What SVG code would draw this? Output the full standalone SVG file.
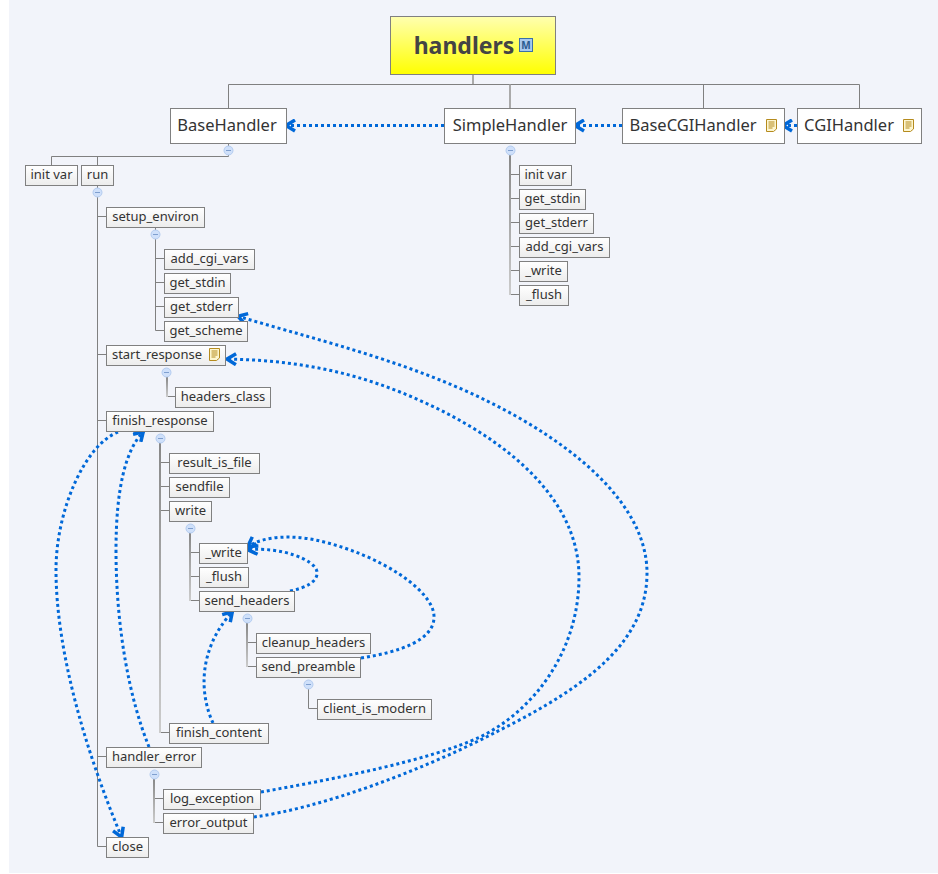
<svg xmlns="http://www.w3.org/2000/svg" width="938" height="874" viewBox="0 0 938 874">
<style>
text{font-family:"Noto Sans","Open Sans",sans-serif;fill:#333;}
.n rect{fill:url(#g);stroke:#808080;stroke-width:1;}
.n text{font-size:13px;text-anchor:middle;}
.b rect{fill:#fff;stroke:#808080;}
.b text{font-size:16.500px;text-anchor:middle;}
.l{fill:none;stroke:#808080;stroke-width:1;}
.v{fill:url(#v);}
.d{fill:none;stroke:#0068d8;stroke-width:3;stroke-dasharray:3 3;}
.c circle{fill:#cfe0fa;stroke:#b4ccf0;}
.c path{stroke:#7f9fcf;}
</style>
<defs>
<linearGradient id="g" x1="0" y1="0" x2="0" y2="1"><stop offset="0" stop-color="#fff"/><stop offset="1" stop-color="#ececec"/></linearGradient>
<linearGradient id="y" x1="0" y1="0" x2="0" y2="1"><stop offset="0" stop-color="#ffffb0"/><stop offset="1" stop-color="#ffff00"/></linearGradient>
<linearGradient id="v" x1="0" y1="0" x2="0" y2="1"><stop offset="0" stop-color="#888"/><stop offset="1" stop-color="#ccc"/></linearGradient>
<marker id="a" markerWidth="14" markerHeight="14" refX="12" refY="7" orient="auto" markerUnits="userSpaceOnUse" viewBox="0 0 14 14"><path d="M2 1.500L11 7L2 12.500" fill="none" stroke="#0068d8" stroke-width="3.500"/></marker>
<g id="note"><path d="M.5 .5H10.500V10L7.500 12.500H.5Z" fill="#fdf6d0" stroke="#b58b1e"/><path d="M2.500 3H8.500M2.500 5H8.500M2.500 7H8.500M2.500 9H6.500" stroke="#b58b1e"/></g>
</defs>
<rect width="938" height="874" fill="#fff"/>
<rect x="9" y="0" width="929" height="873" fill="#f2f4fa"/>
<g id="connectors">
<path class="l" d="M228.500 108V84.500H859.500V108M703.500 84.500V108"/>
<path d="M473 74V84M510 84.500V108" fill="none" stroke="#aaa" stroke-width="2"/>
<path class="l" d="M228.500 144V156.500H51.500V165M97.500 156.500V165M97.500 185V846.500H106M97.500 216.500H106M97.500 354.500H106M97.500 420.500H106M97.500 756.500H106"/>
<path class="l" d="M155.500 227V330.500H164M155.500 258.500H164M155.500 282.500H164M155.500 306.500H164"/>
<path class="l" d="M167 396.500H175"/><rect class="v" x="166" y="377" width="2" height="20"/>
<path class="l" d="M160 732.500H169M160 462.500H169M160 486.500H169M160 510.500H169"/><rect class="v" x="159" y="443" width="2" height="290"/>
<path class="l" d="M190 600.500H199M190 552.500H199M190 576.500H199"/><rect class="v" x="189" y="533" width="2" height="68"/>
<path class="l" d="M247 666.500H256M247 642.500H256"/><rect class="v" x="246" y="623" width="2" height="44"/>
<path class="l" d="M308.500 689V708.500H317"/>
<path class="l" d="M154 822.500H163M154 798.500H163"/><rect class="v" x="153" y="779" width="2" height="44"/>
<path class="l" d="M510 294.500H519M510 174.500H519M510 198.500H519M510 222.500H519M510 246.500H519M510 270.500H519"/><rect class="v" x="509" y="155" width="2" height="140"/>
<path class="d" marker-end="url(#a)" d="M444 125.500H285"/>
<path class="d" marker-end="url(#a)" d="M622 125.500H574"/>
<path class="d" marker-end="url(#a)" d="M797 125.500H782"/>
<path class="d" marker-end="url(#a)" d="M261 792C340 778 430 760 480 737C535 710 579 650 579 577C579 490 490 428 400 392C340 368 285 360 226 359"/>
<path class="d" marker-end="url(#a)" d="M254 817C320 808 420 772 500 730C590 685 647 640 647 573C647 490 540 420 440 380C370 352 300 335 237 316"/>
<path class="d" marker-end="url(#a)" d="M118 432C85 445 56 510 56 570C56 650 85 750 122 838"/>
<path class="d" marker-end="url(#a)" d="M149 747C130 700 116 630 116 550C116 490 125 450 144 431"/>
<path class="d" marker-end="url(#a)" d="M213 723C200 695 197 650 233 611"/>
<path class="d" marker-end="url(#a)" d="M290 591C305 588 318 582 317 572C316 560 280 546 247 550"/>
<path class="d" marker-end="url(#a)" d="M361 658C400 652 435 640 434 616C433 590 380 555 320 541C295 535 265 535 247 547"/>
</g>
<g id="n-handlers"><rect x="390.500" y="16.500" width="165" height="58" fill="url(#y)" stroke="#808080"/><text x="464" y="54" font-size="23" font-weight="700" text-anchor="middle" style="fill:#444">handlers</text><rect x="519.500" y="38.500" width="13" height="13" fill="#a8c8ec" stroke="#3a70a8"/><text x="526" y="49" font-size="10" font-weight="700" text-anchor="middle" style="fill:#2a5a90">M</text></g>
<g id="n-BaseHandler" class="b"><rect x="170.500" y="108.500" width="116" height="35"/><text x="227" y="131">BaseHandler</text></g>
<g id="n-SimpleHandler" class="b"><rect x="444.500" y="108.500" width="131" height="35"/><text x="510" y="131">SimpleHandler</text></g>
<g id="n-BaseCGIHandler" class="b"><rect x="622.500" y="108.500" width="162" height="35"/><text x="693" y="131">BaseCGIHandler</text><use href="#note" x="766" y="119"/></g>
<g id="n-CGIHandler" class="b"><rect x="797.500" y="108.500" width="124" height="35"/><text x="849" y="131">CGIHandler</text><use href="#note" x="903" y="119"/></g>
<g id="n1" class="n"><rect x="25.500" y="165.500" width="52" height="20"/><text x="51.500" y="179">init var</text></g>
<g id="n2" class="n"><rect x="81.500" y="165.500" width="32" height="20"/><text x="97.500" y="179">run</text></g>
<g id="n3" class="n"><rect x="106.500" y="207.500" width="98" height="20"/><text x="155.500" y="221">setup_environ</text></g>
<g id="n4" class="n"><rect x="164.500" y="249.500" width="90" height="20"/><text x="209.500" y="263">add_cgi_vars</text></g>
<g id="n5" class="n"><rect x="164.500" y="273.500" width="66" height="20"/><text x="197.500" y="287">get_stdin</text></g>
<g id="n6" class="n"><rect x="164.500" y="297.500" width="74" height="20"/><text x="201.500" y="311">get_stderr</text></g>
<g id="n7" class="n"><rect x="164.500" y="321.500" width="83" height="20"/><text x="206" y="335">get_scheme</text></g>
<g id="n8" class="n"><rect x="106.500" y="345.500" width="119" height="20"/><text x="157" y="359">start_response</text><use href="#note" x="209" y="348"/></g>
<g id="n9" class="n"><rect x="175.500" y="387.500" width="95" height="20"/><text x="223" y="401">headers_class</text></g>
<g id="n10" class="n"><rect x="106.500" y="411.500" width="107" height="20"/><text x="160" y="425">finish_response</text></g>
<g id="n11" class="n"><rect x="169.500" y="453.500" width="90" height="20"/><text x="214.500" y="467">result_is_file</text></g>
<g id="n12" class="n"><rect x="169.500" y="477.500" width="60" height="20"/><text x="199.500" y="491">sendfile</text></g>
<g id="n13" class="n"><rect x="169.500" y="501.500" width="42" height="20"/><text x="190.500" y="515">write</text></g>
<g id="n14" class="n"><rect x="199.500" y="543.500" width="48" height="20"/><text x="223.500" y="557">_write</text></g>
<g id="n15" class="n"><rect x="199.500" y="567.500" width="49" height="20"/><text x="224" y="581">_flush</text></g>
<g id="n16" class="n"><rect x="199.500" y="591.500" width="95" height="20"/><text x="247" y="605">send_headers</text></g>
<g id="n17" class="n"><rect x="256.500" y="633.500" width="114" height="20"/><text x="313.500" y="647">cleanup_headers</text></g>
<g id="n18" class="n"><rect x="256.500" y="657.500" width="104" height="20"/><text x="308.500" y="671">send_preamble</text></g>
<g id="n19" class="n"><rect x="317.500" y="699.500" width="114" height="20"/><text x="374.500" y="713">client_is_modern</text></g>
<g id="n20" class="n"><rect x="169.500" y="723.500" width="99" height="20"/><text x="219" y="737">finish_content</text></g>
<g id="n21" class="n"><rect x="106.500" y="747.500" width="95" height="20"/><text x="154" y="761">handler_error</text></g>
<g id="n22" class="n"><rect x="163.500" y="789.500" width="97" height="20"/><text x="212" y="803">log_exception</text></g>
<g id="n23" class="n"><rect x="163.500" y="813.500" width="90" height="20"/><text x="208.500" y="827">error_output</text></g>
<g id="n24" class="n"><rect x="106.500" y="837.500" width="42" height="20"/><text x="127.500" y="851">close</text></g>
<g id="n25" class="n"><rect x="519.500" y="165.500" width="52" height="20"/><text x="545.500" y="179">init var</text></g>
<g id="n26" class="n"><rect x="519.500" y="189.500" width="66" height="20"/><text x="552.500" y="203">get_stdin</text></g>
<g id="n27" class="n"><rect x="519.500" y="213.500" width="74" height="20"/><text x="556.500" y="227">get_stderr</text></g>
<g id="n28" class="n"><rect x="519.500" y="237.500" width="90" height="20"/><text x="564.500" y="251">add_cgi_vars</text></g>
<g id="n29" class="n"><rect x="519.500" y="261.500" width="48" height="20"/><text x="543.500" y="275">_write</text></g>
<g id="n30" class="n"><rect x="519.500" y="285.500" width="49" height="20"/><text x="544" y="299">_flush</text></g>
<g class="c">
<g transform="translate(228.500 150.500)"><circle r="4.500"/><path d="M-2.500 0H2.500"/></g>
<g transform="translate(510.500 150.500)"><circle r="4.500"/><path d="M-2.500 0H2.500"/></g>
<g transform="translate(97.500 192.500)"><circle r="4.500"/><path d="M-2.500 0H2.500"/></g>
<g transform="translate(155.500 234.500)"><circle r="4.500"/><path d="M-2.500 0H2.500"/></g>
<g transform="translate(166.500 372.500)"><circle r="4.500"/><path d="M-2.500 0H2.500"/></g>
<g transform="translate(160.500 438.500)"><circle r="4.500"/><path d="M-2.500 0H2.500"/></g>
<g transform="translate(190.500 528.500)"><circle r="4.500"/><path d="M-2.500 0H2.500"/></g>
<g transform="translate(247.500 618.500)"><circle r="4.500"/><path d="M-2.500 0H2.500"/></g>
<g transform="translate(308.500 684.500)"><circle r="4.500"/><path d="M-2.500 0H2.500"/></g>
<g transform="translate(154.500 774.500)"><circle r="4.500"/><path d="M-2.500 0H2.500"/></g>
</g>
</svg>
